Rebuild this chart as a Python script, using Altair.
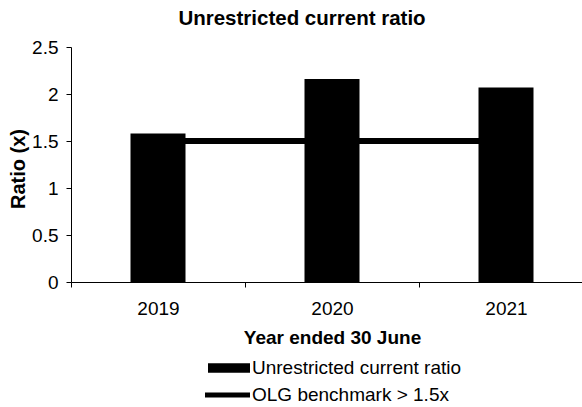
import altair as alt
import pandas as pd

years = ["2019", "2020", "2021"]
ratios = [1.58, 2.16, 2.07]
benchmark = [1.5, 1.5, 1.5]
series = ["Unrestricted current ratio", "OLG benchmark > 1.5x"]
y_ticks = [0, 0.5, 1, 1.5, 2, 2.5]

df = pd.DataFrame({"year": years, "ratio": ratios, "benchmark": benchmark})
leg = pd.DataFrame({"series": series})

FONT = "Liberation Sans"

x_scale = alt.Scale(domain=years, range=[0, 522], paddingInner=0, paddingOuter=0)
y_scale = alt.Scale(domain=[0, 2.5], nice=False, zero=True)

x_axis = alt.Axis(
    title="Year ended 30 June", labelAngle=0, tickBand="extent", tickSize=5,
    labelPadding=12, labelFontSize=19, titleFontSize=19, titleFontWeight="bold",
    titlePadding=10, domainColor="black", tickColor="black", labelColor="black",
    titleColor="black", grid=False, labelFont=FONT, titleFont=FONT,
)
y_axis = alt.Axis(
    title="Ratio (x)", values=y_ticks, format=".1~f", tickSize=5, labelPadding=8,
    labelFontSize=19, titleFontSize=20, titleFontWeight="bold", titleX=-52.5,
    titleY=121.5, titleAngle=-90, titleAlign="center", titleBaseline="middle",
    domainColor="black", tickColor="black", labelColor="black", titleColor="black",
    grid=False, labelFont=FONT, titleFont=FONT,
)

line = alt.Chart(df).mark_line(color="black", strokeWidth=6).encode(
    x=alt.X("year:N", scale=x_scale, axis=x_axis),
    y=alt.Y("benchmark:Q", scale=y_scale, axis=y_axis),
)
bars = alt.Chart(df).mark_bar(size=55, color="black").encode(
    x=alt.X("year:N", scale=x_scale, axis=x_axis),
    y=alt.Y("ratio:Q", scale=y_scale, axis=y_axis),
)

rect_path = "M-3.2,-0.47L1,-0.47L1,0.47L-3.2,0.47Z"
line_path = "M-3.5,-0.25L1,-0.25L1,0.25L-3.5,0.25Z"

legend_pts = alt.Chart(leg).mark_point(filled=True, color="black", opacity=0).encode(
    shape=alt.Shape(
        "series:N",
        scale=alt.Scale(domain=series, range=[rect_path, line_path]),
        sort=series,
        legend=alt.Legend(
            title=None, orient="none", legendX=159, legendY=311, direction="vertical",
            symbolSize=400, symbolStrokeWidth=0, symbolFillColor="black",
            symbolOpacity=1, labelFontSize=19, labelFont=FONT, labelColor="black",
            labelOffset=2, rowPadding=7, padding=0, labelLimit=0,
        ),
    )
)

chart = alt.layer(line, bars, legend_pts).properties(
    width=511,
    height=235,
    padding={"left": 71, "top": 47, "right": 0, "bottom": 125},
    autosize=alt.AutoSizeParams(type="none"),
    title=alt.TitleParams(
        "Unrestricted current ratio", fontSize=20.5, fontWeight="bold", font=FONT,
        color="black", anchor="middle", dx=-24.5, dy=7, offset=0, baseline="alphabetic",
    ),
).configure_view(stroke=None)

chart.save("out.html", embed_options={"renderer": "svg", "actions": False})
